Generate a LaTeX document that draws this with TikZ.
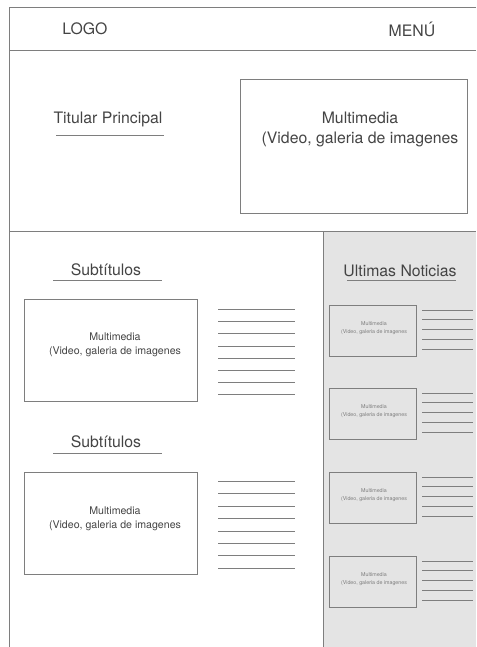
\documentclass[tikz,border=0pt]{standalone}
\usepackage{fontspec}
\setmainfont{TeX Gyre Heros}
\definecolor{linegray}{HTML}{7E7E7E}
\definecolor{txtgray}{HTML}{444444}
\definecolor{panelgray}{HTML}{E4E4E4}
\begin{document}
\begin{tikzpicture}[x=1pt,y=-1pt,
  frame/.style={draw=linegray,line width=1.5pt},
  rulel/.style={draw=linegray,line width=1.5pt},
  bigtxt/.style={text=txtgray,font=\fontsize{15.8}{20}\selectfont,inner sep=0pt,align=center},
  midtxt/.style={text=txtgray,font=\fontsize{10.6}{14}\selectfont,inner sep=0pt,align=center},
  smalltxt/.style={text=txtgray!70,font=\fontsize{5.3}{7.5}\selectfont,inner sep=0pt,align=center}]
\useasboundingbox (0,0) rectangle (476,647);
% panels
\fill[panelgray] (323,231) rectangle (476,647);
\draw[frame] (476,7.5) -- (9.5,7.5) -- (9.5,647);
\draw[frame] (9.5,50.5) -- (476,50.5);
\draw[frame] (9.5,231.5) -- (476,231.5);
\draw[frame] (323.5,231.5) -- (323.5,647);
% header
\node[bigtxt] (logo) at (85,29) {LOGO};
\node[bigtxt] (menu) at (412,29) {MENÚ};
% hero
\node[bigtxt] (titular) at (108,119) {Titular Principal};
\draw[rulel] (56,135.5) -- (164,135.5);
\draw[frame] (240.5,79.5) rectangle (467.5,213.5);
\node[bigtxt] (mmbig) at (360,129) {Multimedia\\(Video, galeria de imagenes};
% left column
\node[bigtxt] (sub1) at (106,270) {Subtítulos};
\draw[rulel] (53,280.5) -- (162,280.5);
\draw[frame] (24.5,299.5) rectangle (197.5,401.5);
\node[midtxt] (mm1) at (115,345) {Multimedia\\(Video, galeria de imagenes};
\foreach \i [evaluate=\i as \yy using {round(309+12.2*\i)+0.5}] in {0,...,7}
  \draw[rulel] (218,\yy) -- (295,\yy);
\node[bigtxt] (sub2) at (106,442) {Subtítulos};
\draw[rulel] (53,453.5) -- (162,453.5);
\draw[frame] (24.5,472.5) rectangle (197.5,574.5);
\node[midtxt] (mm2) at (115,519) {Multimedia\\(Video, galeria de imagenes};
\foreach \i [evaluate=\i as \yy using {round(481+12.4*\i)+0.5}] in {0,...,7}
  \draw[rulel] (218,\yy) -- (295,\yy);
% right column
\node[bigtxt] (news) at (400,271) {Ultimas Noticias};
\draw[rulel] (347,280.5) -- (456,280.5);
\foreach \t [count=\k] in {305,388,472,556}{
  \draw[frame,line width=1.6pt] (329.5,\t+0.5) rectangle (416.5,\t+51.5);
  \node[smalltxt] (mms\k) at (374,\t+23) {Multimedia\\(Video, galeria de imagenes};
  \foreach \i [evaluate=\i as \yy using {round(\t+4.5+9.75*\i)+0.5}] in {0,...,4}
    \draw[rulel] (422,\yy) -- (473,\yy);
}
\end{tikzpicture}
\end{document}
